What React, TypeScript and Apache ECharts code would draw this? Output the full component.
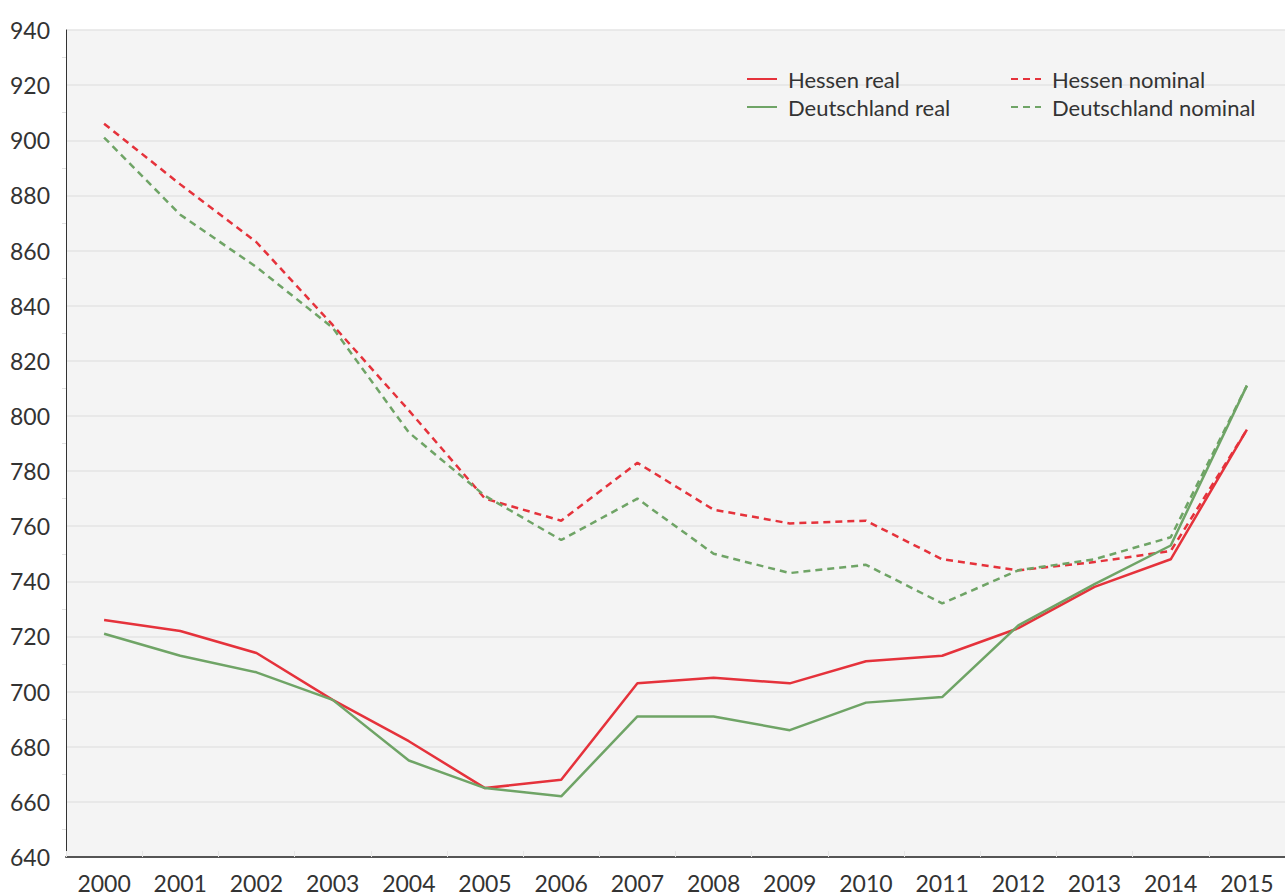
import React, { useEffect, useRef } from "react";
import * as echarts from "echarts";

const years = ["2000","2001","2002","2003","2004","2005","2006","2007","2008","2009","2010","2011","2012","2013","2014","2015"];
const hessenReal = [726, 722, 714, 697, 682, 665, 668, 703, 705, 703, 711, 713, 723, 738, 748, 795];
const deutschlandReal = [721, 713, 707, 697, 675, 665, 662, 691, 691, 686, 696, 698, 724, 739, 753, 811];
const hessenNominal = [906, 884, 863, 833, 802, 770, 762, 783, 766, 761, 762, 748, 744, 747, 751, 795];
const deutschlandNominal = [901, 873, 854, 832, 794, 771, 755, 770, 750, 743, 746, 732, 744, 748, 756, 811];

const RED = "#e5323b";
const GREEN = "#6fa466";
const FONT = "Lato, 'Open Sans', sans-serif";

export default function App() {
  const ref = useRef<HTMLDivElement>(null);
  useEffect(() => {
    if (!ref.current) return;
    const chart = echarts.init(ref.current, undefined, { renderer: "svg" });
    const mk = (name: string, data: number[], color: string, dashed: boolean) => ({
      name,
      type: "line",
      data,
      showSymbol: false,
      symbol: "none",
      lineStyle: { color, width: 2.5, type: dashed ? [7, 5] : "solid" },
      itemStyle: { color },
      z: dashed ? 2 : 3,
    });
    const legendBase = {
      top: 62,
      orient: "vertical",
      itemWidth: 30,
      itemHeight: 14,
      itemGap: 4,
      itemStyle: { opacity: 0 },
      textStyle: { fontSize: 22, color: "#333", fontFamily: FONT, lineHeight: 24, padding: [0, 0, 0, 6] },
    };
    chart.setOption({
      animation: false,
      backgroundColor: "#ffffff",
      textStyle: { fontFamily: FONT },
      grid: {
        left: 66,
        right: -8,
        top: 30,
        bottom: 39,
        show: true,
        backgroundColor: "#f4f4f4",
        borderWidth: 0,
      },
      legend: [
        { ...legendBase, left: 741, data: ["Hessen real", "Deutschland real"] },
        { ...legendBase, left: 1005, data: ["Hessen nominal", "Deutschland nominal"] },
      ],
      xAxis: {
        type: "category",
        data: years,
        boundaryGap: true,
        axisLine: { show: true, lineStyle: { color: "#555", width: 2 } },
        axisTick: { show: true, inside: true, length: 6, lineStyle: { color: "#e6e6e6" } },
        axisLabel: { fontSize: 23, color: "#333", margin: 14, fontFamily: FONT, interval: 0 },
        splitLine: { show: false },
      },
      yAxis: {
        type: "value",
        min: 640,
        max: 940,
        interval: 20,
        axisLine: { show: true, lineStyle: { color: "#333", width: 1 } },
        axisTick: { show: false },
        minorTick: { show: true, splitNumber: 2, length: 4, lineStyle: { color: "#e0e0e0" } },
        axisLabel: { fontSize: 23, color: "#333", margin: 16, fontFamily: FONT },
        splitLine: { show: true, lineStyle: { color: "#e5e5e5", width: 1.5 } },
      },
      series: [
        mk("Hessen nominal", hessenNominal, RED, true),
        mk("Deutschland nominal", deutschlandNominal, GREEN, true),
        mk("Hessen real", hessenReal, RED, false),
        mk("Deutschland real", deutschlandReal, GREEN, false),
      ],
    });
    return () => chart.dispose();
  }, []);
  return <div ref={ref} style={{ position: "fixed", left: 0, top: 0, width: 1285, height: 896 }} />;
}
